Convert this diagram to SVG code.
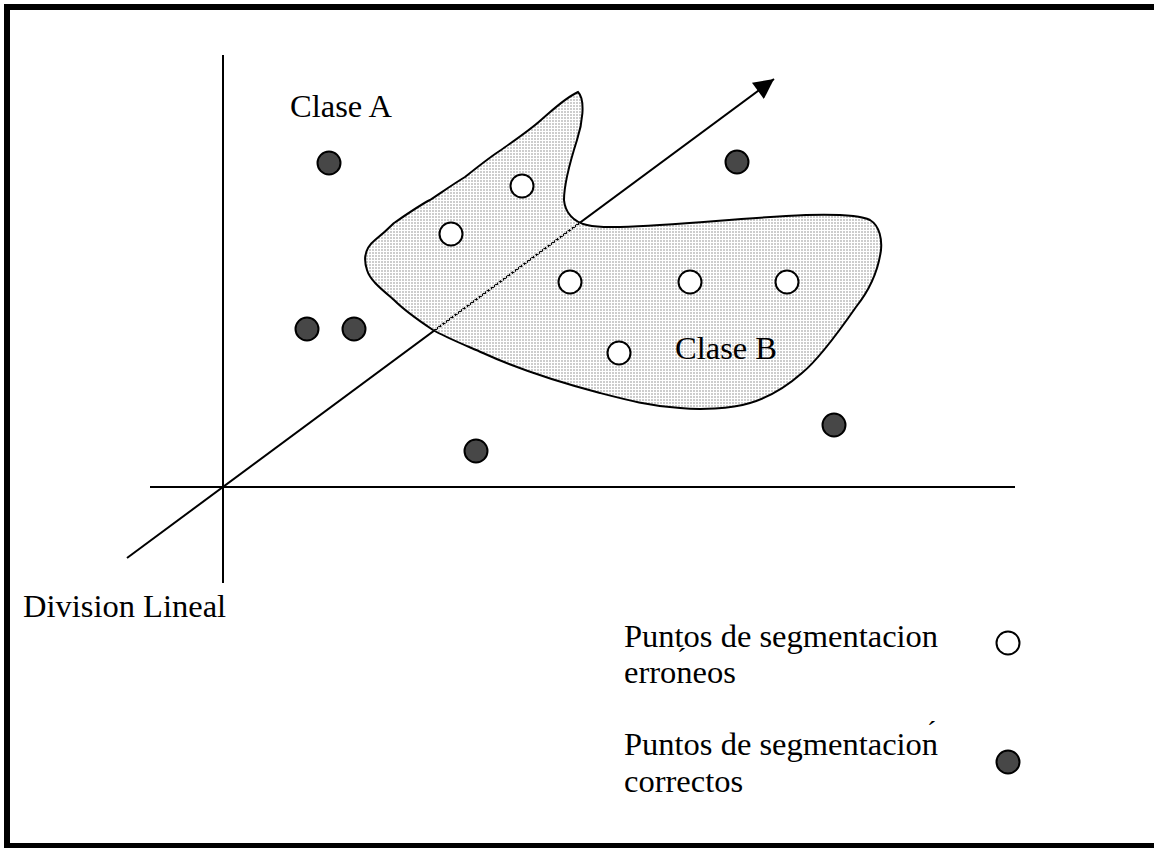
<svg xmlns="http://www.w3.org/2000/svg" width="1154" height="848" viewBox="0 0 1154 848">
<style>
.t{font-family:"Liberation Serif","Times New Roman",serif;font-size:32.5px;fill:#000}
.ac{font-family:"Liberation Serif","Times New Roman",serif;font-size:28px;fill:#000}
.ax{stroke:#000;stroke-width:2;fill:none}
.dk{fill:#474747;stroke:#000;stroke-width:2}
.wh{fill:#fff;stroke:#000;stroke-width:2}
</style>
<defs>
<pattern id="stip" width="3" height="3" patternUnits="userSpaceOnUse">
<rect x="0" y="0" width="2" height="2" fill="#cdcdcd"/>
</pattern>
<marker id="ah" viewBox="0 0 10 10" refX="10" refY="5" markerWidth="26" markerHeight="20" markerUnits="userSpaceOnUse" orient="auto">
<path d="M0,0 L10,5 L0,10 Z" fill="#000"/>
</marker>
</defs>
<rect x="7" y="7" width="1160" height="839" fill="#fff" stroke="#000" stroke-width="6"/>
<g id="connectors">
<line class="ax" x1="223" y1="55" x2="223" y2="583"/>
<line class="ax" x1="150" y1="487" x2="1015" y2="487"/>
<line class="ax" x1="127" y1="558" x2="774" y2="79" marker-end="url(#ah)"/>
</g>
<g id="claseB-region">
<path d="M578,92 C586,100 582,125 577,140 C570,162 564,185 564,200 C565,212 573,222 587,225 C600,228 612,227 620,227 C680,225 740,218 806,215 C840,214 860,215 870,220 C880,226 882,240 881,250 C878,272 868,292 856,307 C840,330 818,360 802,373 C785,388 770,397 750,403 C730,409 700,410 680,408 C650,406 627,400 600,393 C570,385 520,370 483,353 C460,343 445,337 433,330 C415,318 402,308 394,300 C380,288 370,280 367,270 C363,258 365,248 375,240 C385,232 390,227 394,223 C410,212 420,205 430,200 C445,190 455,183 465,177 C480,165 490,157 501,150 C515,140 530,130 541,120 C555,108 565,98 578,92 Z" fill="url(#stip)" stroke="#000" stroke-width="2"/>
</g>
<g id="correctos">
<circle class="dk" cx="329" cy="163" r="11.5"/>
<circle class="dk" cx="737" cy="162" r="11.5"/>
<circle class="dk" cx="307" cy="329" r="11.5"/>
<circle class="dk" cx="354" cy="329" r="11.5"/>
<circle class="dk" cx="476" cy="451" r="11.5"/>
<circle class="dk" cx="834" cy="425" r="11.5"/>
</g>
<g id="erroneos">
<circle class="wh" cx="522" cy="186" r="11.5"/>
<circle class="wh" cx="451" cy="234" r="11.5"/>
<circle class="wh" cx="570" cy="282" r="11.5"/>
<circle class="wh" cx="690" cy="282" r="11.5"/>
<circle class="wh" cx="787" cy="282" r="11.5"/>
<circle class="wh" cx="619" cy="353" r="11.5"/>
</g>
<g id="labels">
<text class="t" x="290" y="117">Clase A</text>
<text class="t" x="675" y="359">Clase B</text>
<text class="t" x="23" y="617">Division Lineal</text>
</g>
<g id="legend">
<text class="t" x="624" y="647">Puntos de segmentacion</text>
<text class="t" x="624" y="683">erroneos</text>
<text class="ac" x="677" y="667">´</text>
<circle class="wh" cx="1008" cy="643" r="11.5"/>
<text class="t" x="624" y="755">Puntos de segmentacion</text>
<text class="t" x="624" y="792">correctos</text>
<text class="ac" x="927" y="740">´</text>
<circle class="dk" cx="1008" cy="762" r="11.5"/>
</g>
</svg>
